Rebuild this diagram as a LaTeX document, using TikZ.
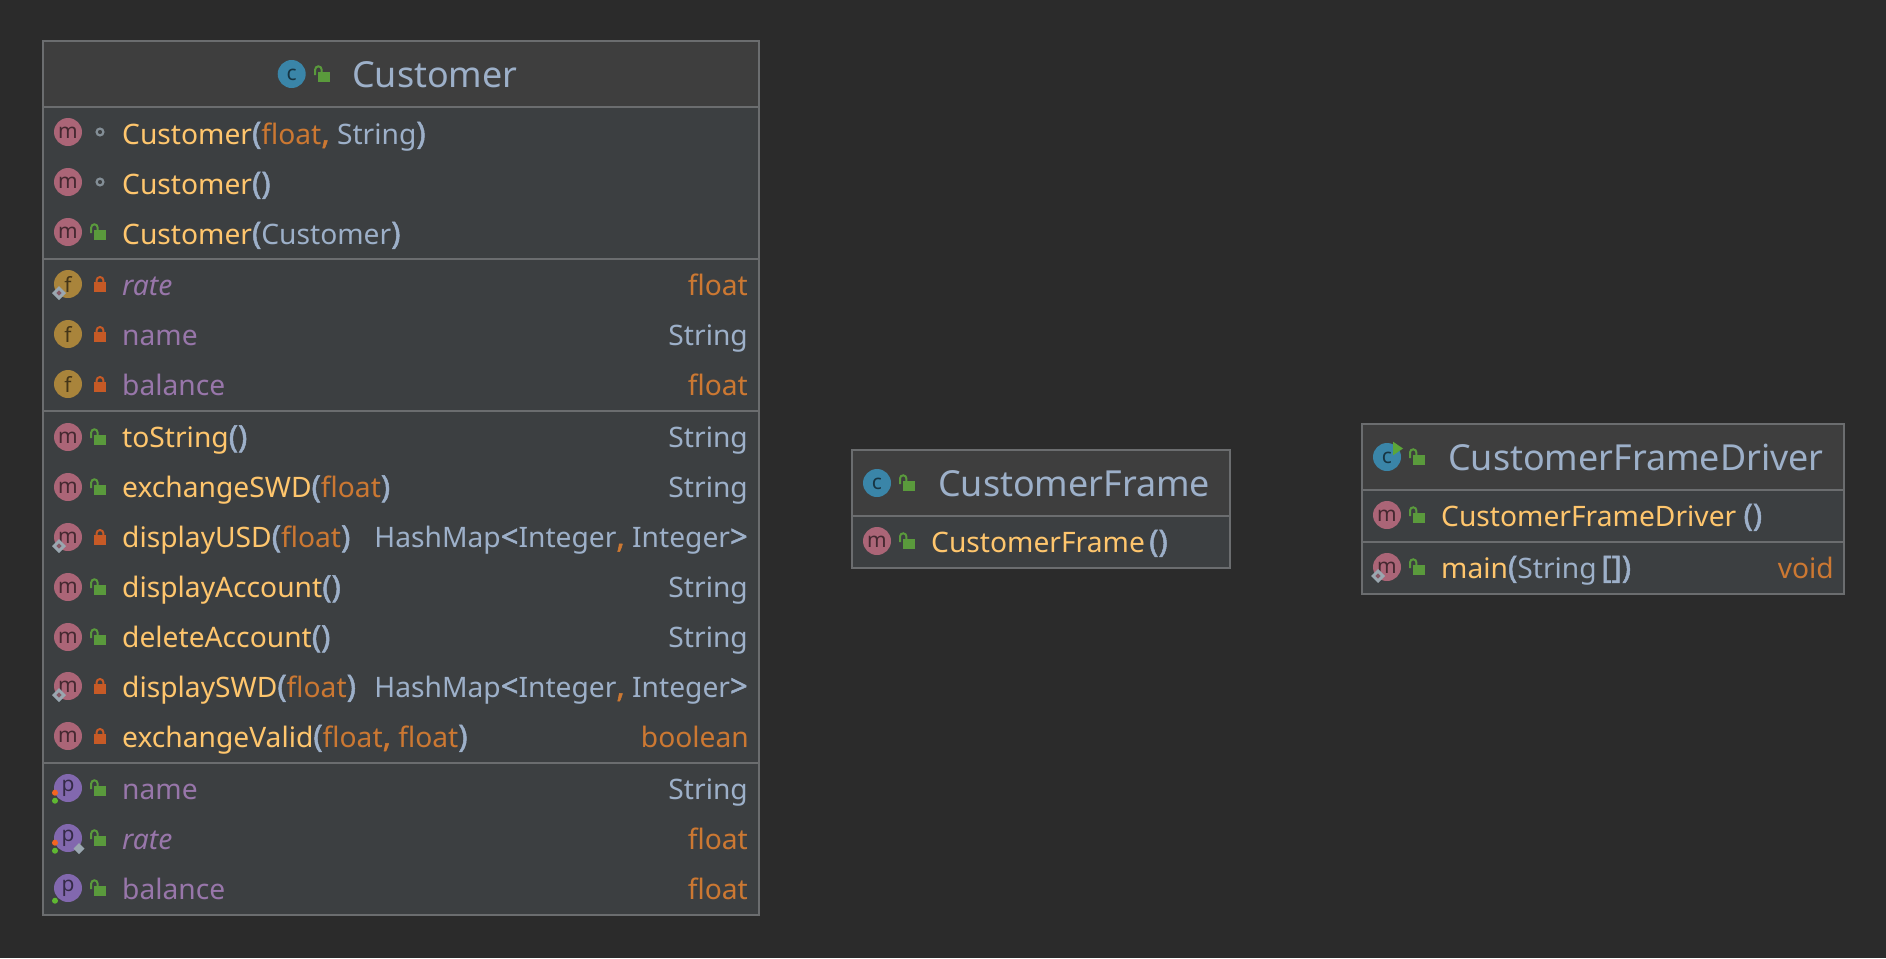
\documentclass[tikz,border=0pt]{standalone}
\usepackage{fontspec}
\setmainfont{Noto Sans}
\newfontfamily\brfont[FakeBold=1.6,Scale=1.1]{Noto Sans}
\definecolor{bgc}{HTML}{2B2B2B}
\definecolor{bodyc}{HTML}{3C3F41}
\definecolor{headc}{HTML}{3E3E3E}
\definecolor{edgec}{HTML}{6B6D6F}
\definecolor{titlec}{HTML}{9DB0C9}
\definecolor{meth}{HTML}{FFC66D}
\definecolor{typec}{HTML}{CC7832}
\definecolor{purp}{HTML}{9876AA}
\definecolor{argc}{HTML}{9DB0C9}
\definecolor{classc}{HTML}{3A85A8}
\definecolor{mc}{HTML}{AB6577}
\definecolor{fc}{HTML}{A9843B}
\definecolor{pc}{HTML}{8268AE}
\definecolor{lockr}{HTML}{C75A26}
\definecolor{lockg}{HTML}{5A9A3C}
\definecolor{diac}{HTML}{9AA7B0}
\definecolor{doto}{HTML}{F26522}
\definecolor{dotg}{HTML}{5FB832}
\newcommand{\cm}[1]{\textcolor{meth}{#1}}
\newcommand{\ct}[1]{\textcolor{typec}{#1}}
\newcommand{\ca}[1]{\textcolor{argc}{#1}}
\newcommand{\br}[1]{\textcolor{argc}{\brfont #1}}
\newcommand{\cmb}{\textcolor{typec}{\brfont ,}}
\newcommand{\rowfont}{\fontsize{28.3}{30}\selectfont}
\newcommand{\titlefont}{\fontsize{36}{40}\selectfont}
\tikzset{
  x=1bp,y=-1bp,
  rowtext/.style={anchor=base west,inner sep=0pt,font=\rowfont},
  rowright/.style={anchor=base east,inner sep=0pt,font=\rowfont},
  titletext/.style={anchor=base west,inner sep=0pt,font=\titlefont,text=titlec},
  boxbody/.style={fill=bodyc,draw=none},
  boxhead/.style={fill=headc,draw=none},
  boxedge/.style={draw=edgec,line width=1.4bp},
  sepline/.style={draw=edgec,line width=1.4bp},
  iconletter/.style={inner sep=0pt,font=\fontsize{21}{21}\selectfont},
}
% icon: x, y, colour, letter
\newcommand{\icon}[4]{%
  \fill[#3] (#1,#2) circle[radius=14];
  \node[iconletter,text=#3!40!black] at (#1,#2+0.5) {#4};}
\newcommand{\lockopen}[2]{%
  \fill[lockg] (#1-6,#2-2.2) rectangle (#1+6.5,#2+8);
  \draw[lockg,line width=2bp] (#1-8.5,#2+1) -- (#1-8.5,#2-4.5) arc[start angle=180,end angle=360,radius=3.2] -- (#1-2.1,#2-2);}
\newcommand{\lockshut}[2]{%
  \fill[lockr] (#1-6,#2-1.7) rectangle (#1+6,#2+7.7);
  \draw[lockr,line width=2bp] (#1-3.4,#2-1.7) -- (#1-3.4,#2-3.6) arc[start angle=180,end angle=360,radius=3.4] -- (#1+3.4,#2-1.7);}
\newcommand{\ringmark}[2]{%
  \draw[diac!85!black,line width=2.2bp] (#1,#2) circle[radius=3.4];}
\newcommand{\diahollow}[2]{%
  \fill[diac] (#1-7,#2) -- (#1,#2-7) -- (#1+7,#2) -- (#1,#2+7) -- cycle;
  \fill[mc!65!bodyc] (#1-2.6,#2) -- (#1,#2-2.6) -- (#1+2.6,#2) -- (#1,#2+2.6) -- cycle;}
\newcommand{\diasolid}[2]{%
  \fill[diac] (#1-5.5,#2) -- (#1,#2-5.5) -- (#1+5.5,#2) -- (#1,#2+5.5) -- cycle;}
\begin{document}
\begin{tikzpicture}
\useasboundingbox (0,0) rectangle (1886,958);
\fill[bgc] (0,0) rectangle (1886,958);

% ---------- Customer ----------
\path[boxbody] (43,41) rectangle (759,915);
\path[boxhead] (43,41) rectangle (759,107);
\draw[boxedge] (43,41) rectangle (759,915);
\draw[sepline] (43,107) -- (759,107);
\draw[sepline] (43,259) -- (759,259);
\draw[sepline] (43,411) -- (759,411);
\draw[sepline] (43,763) -- (759,763);

\icon{291.7}{74}{classc}{c}
\lockopen{323.7}{74}
\node[titletext] (ctitle) at (352,87.5) {Customer};

\icon{68}{132}{mc}{m}\ringmark{100}{132}
\node[rowtext] (r1) at (122,144) {\cm{Customer}\br{(}\ct{float}\cmb{} \ca{String}\br{)}};
\icon{68}{182}{mc}{m}\ringmark{100}{182}
\node[rowtext] (r2) at (122,194) {\cm{Customer}\br{()}};
\icon{68}{232}{mc}{m}\lockopen{99.7}{232}
\node[rowtext] (r3) at (122,244) {\cm{Customer}\br{(}\ca{Customer}\br{)}};

\icon{68}{284}{fc}{f}\lockshut{100}{284}\diahollow{59}{293}
\node[rowtext,text=purp,font=\rowfont\itshape] (r4) at (122,295) {rate};
\node[rowright,text=typec] (r4t) at (748,295) {float};
\icon{68}{334}{fc}{f}\lockshut{100}{334}
\node[rowtext,text=purp] (r5) at (122,345) {name};
\node[rowright,text=argc] (r5t) at (748,345) {String};
\icon{68}{384}{fc}{f}\lockshut{100}{384}
\node[rowtext,text=purp] (r6) at (122,395) {balance};
\node[rowright,text=typec] (r6t) at (748,395) {float};

\icon{68}{437}{mc}{m}\lockopen{99.7}{437}
\node[rowtext] (r7) at (122,447.5) {\cm{toString}\br{()}};
\node[rowright,text=argc] (r7t) at (748,447.5) {String};
\icon{68}{487}{mc}{m}\lockopen{99.7}{487}
\node[rowtext] (r8) at (122,497.5) {\cm{exchangeSWD}\br{(}\ct{float}\br{)}};
\node[rowright,text=argc] (r8t) at (748,497.5) {String};
\icon{68}{537}{mc}{m}\lockshut{100}{537}\diahollow{59}{546}
\node[rowtext] (r9) at (122,547.5) {\cm{displayUSD}\br{(}\ct{float}\br{)}};
\node[rowright] (r9t) at (748,547.5) {\ca{HashMap}\br{<}\ca{Integer}\cmb{} \ca{Integer}\br{>}};
\icon{68}{587}{mc}{m}\lockopen{99.7}{587}
\node[rowtext] (r10) at (122,597.5) {\cm{displayAccount}\br{()}};
\node[rowright,text=argc] (r10t) at (748,597.5) {String};
\icon{68}{637}{mc}{m}\lockopen{99.7}{637}
\node[rowtext] (r11) at (122,647.5) {\cm{deleteAccount}\br{()}};
\node[rowright,text=argc] (r11t) at (748,647.5) {String};
\icon{68}{686}{mc}{m}\lockshut{100}{686}\diahollow{59}{695}
\node[rowtext] (r12) at (122,697) {\cm{displaySWD}\br{(}\ct{float}\br{)}};
\node[rowright] (r12t) at (748,697) {\ca{HashMap}\br{<}\ca{Integer}\cmb{} \ca{Integer}\br{>}};
\icon{68}{736}{mc}{m}\lockshut{100}{736}
\node[rowtext] (r13) at (122,747) {\cm{exchangeValid}\br{(}\ct{float}\cmb{} \ct{float}\br{)}};
\node[rowright,text=typec] (r13t) at (749,747) {boolean};

\icon{68}{788}{pc}{p}\lockopen{99.7}{788}
\fill[doto] (55,792.7) circle[radius=3];\fill[dotg] (55,800.7) circle[radius=3];
\node[rowtext,text=purp] (r14) at (122,799) {name};
\node[rowright,text=argc] (r14t) at (748,799) {String};
\icon{68}{838}{pc}{p}\lockopen{99.7}{838}
\fill[doto] (55,842.7) circle[radius=3];\fill[dotg] (55,850.7) circle[radius=3];\diasolid{79}{848.7}
\node[rowtext,text=purp,font=\rowfont\itshape] (r15) at (122,849) {rate};
\node[rowright,text=typec] (r15t) at (748,849) {float};
\icon{68}{888}{pc}{p}\lockopen{99.7}{888}
\fill[dotg] (55,900.7) circle[radius=3];
\node[rowtext,text=purp] (r16) at (122,899) {balance};
\node[rowright,text=typec] (r16t) at (748,899) {float};

% ---------- CustomerFrame ----------
\path[boxbody] (852,450) rectangle (1230,568);
\path[boxhead] (852,450) rectangle (1230,516);
\draw[boxedge] (852,450) rectangle (1230,568);
\draw[sepline] (852,516) -- (1230,516);
\icon{877}{483}{classc}{c}
\lockopen{908.5}{483}
\node[titletext] (ftitle) at (938,496.5) {CustomerFrame};
\icon{877}{541}{mc}{m}\lockopen{908.5}{541}
\node[rowtext] (f1) at (931,552) {\cm{CustomerFrame}};
\node[rowtext] (f1p) at (1149,552) {\br{()}};

% ---------- CustomerFrameDriver ----------
\path[boxbody] (1362,424) rectangle (1844,594);
\path[boxhead] (1362,424) rectangle (1844,490);
\draw[boxedge] (1362,424) rectangle (1844,594);
\draw[sepline] (1362,490) -- (1844,490);
\draw[sepline] (1362,542) -- (1844,542);
\icon{1387}{457}{classc}{c}
\fill[lockg!60!dotg] (1393,441.7) -- (1403,448.5) -- (1393,455.3) -- cycle;
\lockopen{1418.5}{457}
\node[titletext] (dtitle) at (1448,470.5) {CustomerFrameDriver};
\icon{1387}{515}{mc}{m}\lockopen{1418.5}{515}
\node[rowtext] (d1) at (1441,526) {\cm{CustomerFrameDriver} \br{()}};
\icon{1387}{567}{mc}{m}\lockopen{1418.5}{567}\diahollow{1378}{576}
\node[rowtext] (d2) at (1441,578) {\cm{main}\br{(}\ca{String}\,\br{[])}};
\node[rowright,text=typec] (d2t) at (1834,578) {void};
\end{tikzpicture}
\end{document}
